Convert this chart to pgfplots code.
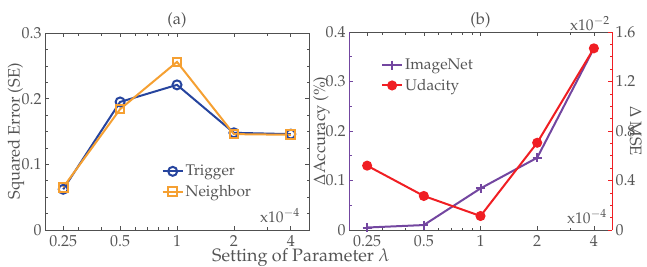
\documentclass[border=0pt]{standalone}
\usepackage[T1]{fontenc}
\usepackage{mathpazo}
\usepackage{pgfplots}
\pgfplotsset{compat=1.18}
\definecolor{txt}{RGB}{85,85,85}
\definecolor{axc}{RGB}{80,80,80}
\definecolor{trig}{RGB}{38,68,158}
\definecolor{neigh}{RGB}{245,160,50}
\definecolor{imnet}{RGB}{115,70,160}
\definecolor{udac}{RGB}{240,30,35}
\newcommand{\fs}{\fontsize{15.5}{17}\selectfont}
\newcommand{\ft}{\fontsize{16}{18}\selectfont}
\newcommand{\fl}{\fontsize{16.5}{18}\selectfont}
\newcommand{\fx}{\fontsize{18}{20}\selectfont}
\pgfplotsset{
  chartbase/.style={
    scale only axis, clip=false,
    xmin=-2.32, xmax=2.32,
    xtick={-2,-1,0,1,2},
    xticklabels={0.25,0.5,1,2,4},
    minor xtick={-1.737,-1.322,-0.737,-0.515,-0.322,-0.152,1.585},
    tick label style={font=\ft, text=txt},
    xticklabel style={inner ysep=1bp, yshift=-4bp},
    label style={font=\fl, text=txt},
    title style={font=\fl, text=txt},
    major tick length=4bp, minor tick length=2.5bp,
    tick style={axc, line width=0.6bp},
    axis line style={axc, line width=0.8bp},
    legend style={draw=none, fill=none, font=\fs, text=txt, row sep=4bp},
    legend cell align=left,
    legend image code/.code={\draw[mark repeat=2,mark phase=2] plot coordinates {(0bp,0bp) (10bp,0bp) (20bp,0bp)};},
  },
  trigst/.style={trig, line width=2bp, mark=o, mark size=4.5bp, mark options={line width=2bp}},
  neighst/.style={neigh, line width=2bp, mark=square, mark size=4.3bp, mark options={line width=2bp}},
  imst/.style={imnet, line width=2bp, mark=+, mark size=4.5bp, mark options={line width=2bp}},
  udst/.style={udac, line width=2bp, mark=*, mark size=4bp},
}
\begin{document}
\begin{tikzpicture}
\path[use as bounding box] (0,0) rectangle (647bp,267bp);
% (a)
\begin{axis}[chartbase, at={(45bp,37bp)}, anchor=south west, width=264bp, height=197bp,
  ymin=0, ymax=0.3, ytick={0,0.1,0.2,0.3}, yticklabels={0,0.1,0.2,0.3}, minor y tick num=3,
  title={(a)}, title style={yshift=-4bp},
  ylabel={Squared Error (SE)}, ylabel style={at={(axis description cs:-0.11,0.5)}, anchor=center},
  legend style={at={(0.43,0.35)}, anchor=north west}]
\addplot[trigst] coordinates {(-2,0.062) (-1,0.195) (0,0.221) (1,0.148) (2,0.146)};
\addlegendentry{Trigger}
\addplot[neighst] coordinates {(-2,0.065) (-1,0.184) (0,0.256) (1,0.146) (2,0.145)};
\addlegendentry{Neighbor}
\node[anchor=base east, inner sep=0, font=\fs, text=txt] at (rel axis cs:1,0) [xshift=-9bp, yshift=8bp] {x10$^{-4}$};
\end{axis}
% (b) left
\begin{axis}[chartbase, at={(349bp,37bp)}, anchor=south west, width=263bp, height=198bp,
  ymin=0, ymax=0.4, ytick={0,0.1,0.2,0.3,0.4}, yticklabels={0,0.1,0.2,0.3,0.4}, minor y tick num=1,
  separate axis lines, axis x line*=box, axis y line*=left,
  x axis line style={axc}, y axis line style={imnet}, ytick style={imnet},
  title={(b)}, title style={yshift=-5bp},
  ylabel={$\Delta$Accuracy (\%)}, ylabel style={at={(axis description cs:-0.105,0.5)}, anchor=center}]
\addplot[imst] coordinates {(-2,0.005) (-1,0.010) (0,0.084) (1,0.146) (2,0.367)};
\node[anchor=base east, inner sep=0, font=\fs, text=txt] at (rel axis cs:1,0) [xshift=-5bp, yshift=7bp] {x10$^{-4}$};
\end{axis}
% (b) right
\begin{axis}[chartbase, at={(349bp,37bp)}, anchor=south west, width=263bp, height=198bp,
  ymin=0, ymax=1.6, ytick={0,0.4,0.8,1.2,1.6}, yticklabels={0,0.4,0.8,1.2,1.6}, minor y tick num=3,
  axis x line=none, axis y line*=right,
  y axis line style={udac}, ytick style={udac},
  ylabel={$\Delta$ MSE}, ylabel style={at={(axis description cs:1.09,0.5)}, anchor=center, rotate=180, inner sep=1bp},
  legend style={at={(0.11,0.885)}, anchor=north west}]
\addlegendimage{imst}
\addlegendentry{ImageNet}
\addplot[udst] coordinates {(-2,0.52) (-1,0.275) (0,0.113) (1,0.705) (2,1.468)};
\addlegendentry{Udacity}
\node[anchor=base east, inner sep=0, font=\fs, text=txt] at (rel axis cs:1,1) [xshift=-2bp, yshift=2bp] {x10$^{-2}$};
\end{axis}
\node[font=\fx, text=txt, anchor=south, inner sep=0] at (301bp,0.5bp) {Setting of Parameter $\lambda$};
\end{tikzpicture}
\end{document}
